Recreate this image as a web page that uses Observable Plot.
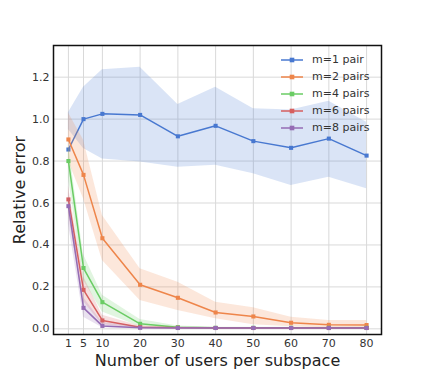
<!DOCTYPE html>
<html>
<head>
<meta charset="utf-8">
<script src="https://cdn.jsdelivr.net/npm/d3@7"></script>
<script src="https://cdn.jsdelivr.net/npm/@observablehq/plot@0.6"></script>
<style>
  html, body { margin: 0; padding: 0; background: #fff; }
  #wrap { position: relative; width: 423px; height: 376px; }
  #legend { position: absolute; left: 280px; top: 51px; font-family: "DejaVu Sans", sans-serif; font-size: 11px; color: #333; }
  #legend .row { display: flex; align-items: center; height: 17px; }
  #legend svg { margin-right: 8px; flex: none; }
</style>
</head>
<body>
<div id="wrap"></div>
<script>
const xs = [1, 5, 10, 20, 30, 40, 50, 60, 70, 80];
const xTicks = [1, 5, 10, 20, 30, 40, 50, 60, 70, 80];
const yTicks = [0.0, 0.2, 0.4, 0.6, 0.8, 1.0, 1.2];

const seriesNames = ["m=1 pair", "m=2 pairs", "m=4 pairs", "m=6 pairs", "m=8 pairs"];
const seriesColors = ["#4878d0", "#ee854a", "#6acc64", "#d65f5f", "#956cb4"];

const m1 = [0.855, 1.0, 1.025, 1.02, 0.918, 0.968, 0.895, 0.863, 0.907, 0.826];
const m1Lo = [0.95, 0.86, 0.81, 0.795, 0.77, 0.78, 0.74, 0.683, 0.723, 0.668];
const m1Hi = [1.03, 1.152, 1.235, 1.247, 1.07, 1.152, 1.05, 1.044, 1.085, 0.985];

const m2 = [0.903, 0.734, 0.432, 0.21, 0.148, 0.078, 0.059, 0.029, 0.019, 0.018];
const m2Lo = [0.8, 0.62, 0.326, 0.135, 0.087, 0.048, 0.019, 0.01, 0.005, 0.005];
const m2Hi = [1.03, 0.9, 0.54, 0.286, 0.222, 0.127, 0.1, 0.055, 0.04, 0.04];

const m4 = [0.8, 0.29, 0.127, 0.024, 0.008, 0.005, 0.005, 0.005, 0.005, 0.005];
const m4Lo = [0.72, 0.23, 0.08, 0.01, 0.003, 0.002, 0.002, 0.002, 0.002, 0.002];
const m4Hi = [0.88, 0.355, 0.16, 0.045, 0.013, 0.008, 0.008, 0.008, 0.008, 0.008];

const m6 = [0.617, 0.186, 0.04, 0.008, 0.005, 0.004, 0.004, 0.004, 0.004, 0.004];
const m6Lo = [0.55, 0.13, 0.02, 0.003, 0.002, 0.002, 0.002, 0.002, 0.002, 0.002];
const m6Hi = [0.68, 0.25, 0.065, 0.014, 0.008, 0.006, 0.006, 0.006, 0.006, 0.006];

const m8 = [0.585, 0.1, 0.014, 0.005, 0.004, 0.004, 0.004, 0.004, 0.004, 0.004];
const m8Lo = [0.5, 0.055, 0.005, 0.002, 0.002, 0.002, 0.002, 0.002, 0.002, 0.002];
const m8Hi = [0.65, 0.15, 0.03, 0.009, 0.006, 0.006, 0.006, 0.006, 0.006, 0.006];

const means = [m1, m2, m4, m6, m8];
const lows = [m1Lo, m2Lo, m4Lo, m6Lo, m8Lo];
const highs = [m1Hi, m2Hi, m4Hi, m6Hi, m8Hi];

const marks = [
  Plot.gridX(xTicks, {stroke: "#d9d9d9", strokeOpacity: 1, strokeWidth: 1}),
  Plot.gridY(yTicks, {stroke: "#d9d9d9", strokeOpacity: 1, strokeWidth: 1}),
];
seriesNames.forEach((name, i) => {
  const rows = xs.map((x, j) => ({x, y: means[i][j], lo: lows[i][j], hi: highs[i][j]}));
  marks.push(Plot.areaY(rows, {x: "x", y1: "lo", y2: "hi", fill: seriesColors[i], fillOpacity: 0.2}));
  marks.push(Plot.line(rows, {x: "x", y: "y", stroke: seriesColors[i], strokeWidth: 1.5}));
  marks.push(Plot.dot(rows, {x: "x", y: "y", symbol: "square", r: 2.3, fill: seriesColors[i], stroke: "none"}));
});
marks.push(
  Plot.axisX(xTicks, {tickSize: 0, tickPadding: 5, tickFormat: d => String(d), fontSize: 11, fill: "#333", label: null}),
  Plot.axisY(yTicks, {tickSize: 0, tickPadding: 4, tickFormat: d3.format(".1f"), fontSize: 11, fill: "#333", label: null}),
  Plot.frame({stroke: "#111", strokeWidth: 1.5}),
  Plot.text(["Number of users per subspace"], {frameAnchor: "bottom", textAnchor: "middle", lineAnchor: "middle", dy: 26.5, fontSize: 16, fill: "#222"}),
  Plot.text(["Relative error"], {frameAnchor: "left", textAnchor: "middle", lineAnchor: "middle", dx: -34, rotate: -90, fontSize: 16, fill: "#222"})
);

const chart = Plot.plot({
  width: 423,
  height: 376,
  marginLeft: 53,
  marginRight: 42,
  marginTop: 45,
  marginBottom: 42,
  style: {fontFamily: "DejaVu Sans, sans-serif", fontSize: "11px", background: "#fff", color: "#333"},
  x: {type: "linear", domain: [-2.95, 83.95]},
  y: {type: "linear", domain: [-0.027, 1.351]},
  marks
});
const wrap = document.getElementById("wrap");
wrap.appendChild(chart);

const legend = document.createElement("div");
legend.id = "legend";
seriesNames.forEach((name, i) => {
  const row = document.createElement("div");
  row.className = "row";
  row.innerHTML = `<svg width="24" height="10"><line x1="1" y1="5" x2="23" y2="5" stroke="${seriesColors[i]}" stroke-width="1.5"/><rect x="9.7" y="2.7" width="4.6" height="4.6" fill="${seriesColors[i]}"/></svg><span>${name}</span>`;
  legend.appendChild(row);
});
wrap.appendChild(legend);
</script>
</body>
</html>
